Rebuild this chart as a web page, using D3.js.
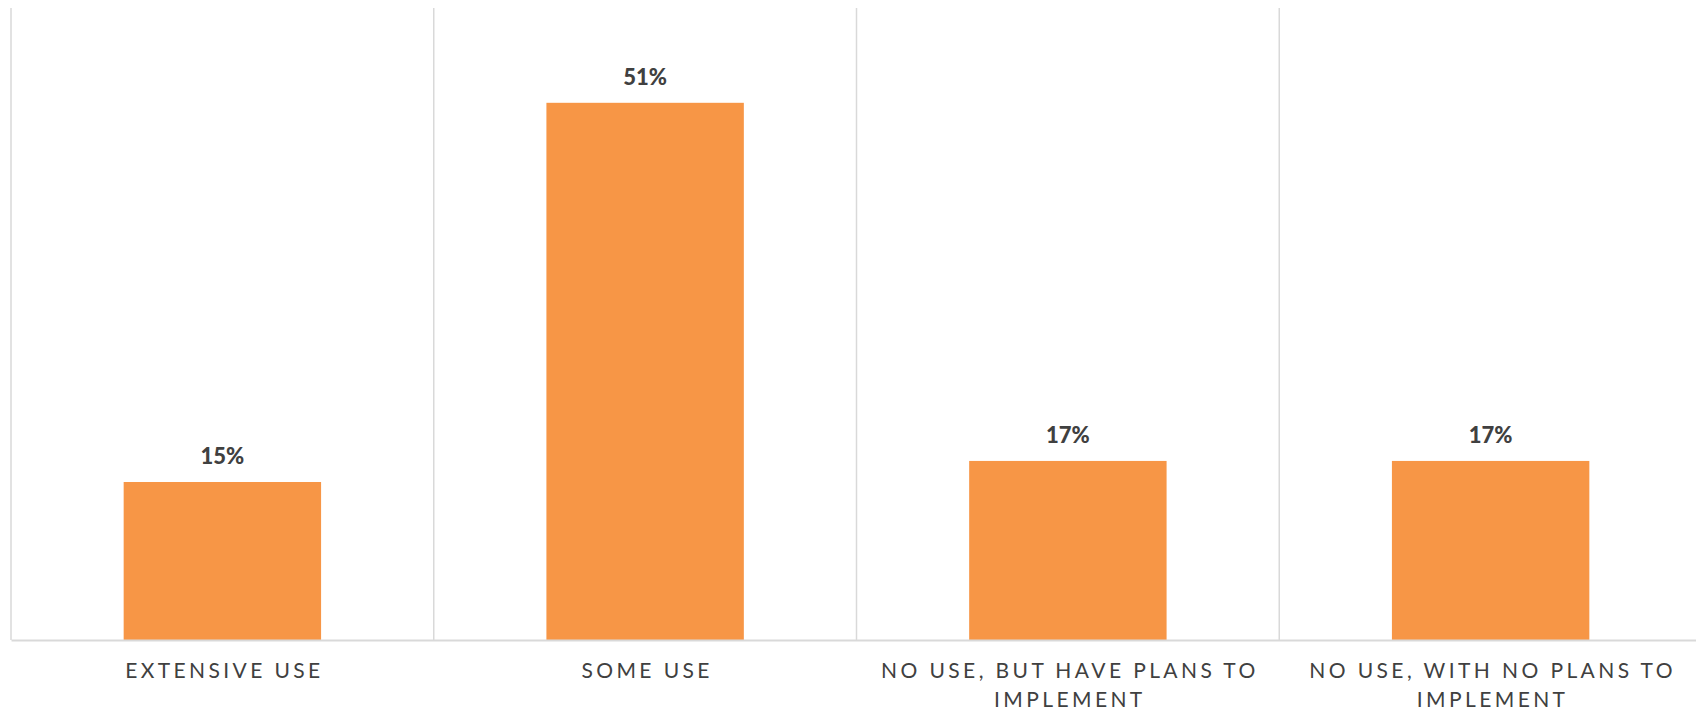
<!DOCTYPE html>
<html>
<head>
<meta charset="utf-8">
<script src="https://cdn.jsdelivr.net/npm/d3@7"></script>
<style>
  html, body { margin: 0; padding: 0; background: #ffffff; }
  svg { display: block; }
</style>
</head>
<body>
<svg id="chart" width="1696" height="712"></svg>
<script>
const categories = ["EXTENSIVE USE", "SOME USE", "NO USE, BUT HAVE PLANS TO IMPLEMENT", "NO USE, WITH NO PLANS TO IMPLEMENT"];
const values = [0.15, 0.51, 0.17, 0.17];
const valueLabels = ["15%", "51%", "17%", "17%"];

const W = 1696, H = 712;
const margin = { left: 11, top: 8, right: -6, bottom: 72 };
const svg = d3.select("#chart");
const plotW = W - margin.left - margin.right;
const plotH = H - margin.top - margin.bottom;

const x = d3.scaleBand().domain(categories).range([0, plotW]).paddingInner(0.533).paddingOuter(0.2665);
const y = d3.scaleLinear().domain([0, 0.6]).range([plotH, 0]);

const g = svg.append("g").attr("transform", `translate(${margin.left},${margin.top})`);

// vertical category gridlines (band boundaries)
const step = x.step();
const bounds = d3.range(categories.length + 1).map(i => i * step);
g.selectAll("line.vgrid").data(bounds).join("line")
  .attr("class", "vgrid")
  .attr("x1", d => d).attr("x2", d => d)
  .attr("y1", 0).attr("y2", plotH)
  .attr("stroke", "#d9d9d9").attr("stroke-width", 1.5);

// bars
g.selectAll("rect.bar").data(categories).join("rect")
  .attr("class", "bar")
  .attr("x", d => x(d))
  .attr("width", x.bandwidth())
  .attr("y", (d, i) => y(values[i]))
  .attr("height", (d, i) => plotH - y(values[i]))
  .attr("fill", "#F79646");

// baseline axis
const xAxis = g.append("g").attr("transform", `translate(0,${plotH})`)
  .call(d3.axisBottom(x).tickSize(0).tickPadding(0));
xAxis.select(".domain").attr("stroke", "#d9d9d9").attr("stroke-width", 1.8);
xAxis.selectAll(".tick text").remove();

// value labels
g.selectAll("text.val").data(categories).join("text")
  .attr("class", "val")
  .attr("x", d => x(d) + x.bandwidth() / 2)
  .attr("y", (d, i) => y(values[i]) - 18)
  .attr("text-anchor", "middle")
  .attr("font-family", "Lato, 'Open Sans', sans-serif")
  .attr("font-weight", 900)
  .attr("font-size", 22)
  .attr("fill", "#404040")
  .text((d, i) => valueLabels[i]);

// category labels with wrapping
const maxW = step - 30;
const labels = g.selectAll("text.cat").data(categories).join("text")
  .attr("class", "cat")
  .attr("x", d => x(d) + x.bandwidth() / 2 + 2)
  .attr("y", plotH + 38)
  .attr("text-anchor", "middle")
  .attr("font-family", "Lato, 'Open Sans', sans-serif")
  .attr("font-size", 21)
  .attr("letter-spacing", "3.4px")
  .attr("fill", "#404040");

labels.each(function(d) {
  const text = d3.select(this);
  const words = d.split(" ");
  const cx = text.attr("x");
  let line = [];
  let tspan = text.append("tspan").attr("x", cx).attr("dy", 0);
  words.forEach(w => {
    line.push(w);
    tspan.text(line.join(" "));
    if (tspan.node().getComputedTextLength() > maxW && line.length > 1) {
      line.pop();
      tspan.text(line.join(" "));
      line = [w];
      tspan = text.append("tspan").attr("x", cx).attr("dy", 29).text(w);
    }
  });
});
</script>
</body>
</html>
